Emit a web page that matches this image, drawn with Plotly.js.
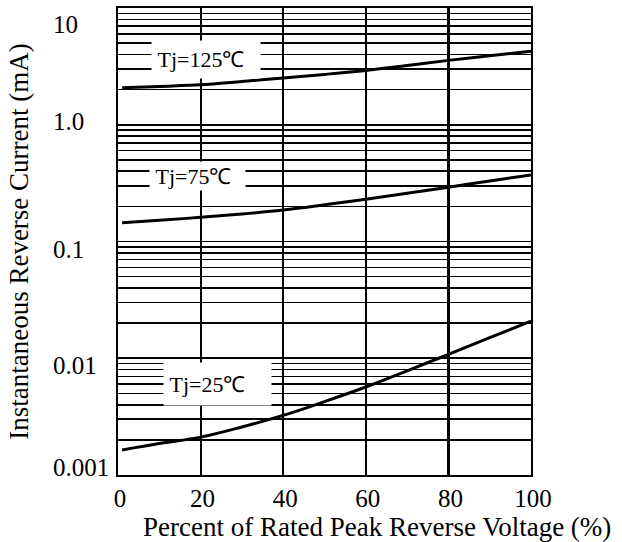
<!DOCTYPE html>
<html>
<head>
<meta charset="utf-8">
<script src="https://cdn.plot.ly/plotly-3.0.1.min.js"></script>
<style>html,body{margin:0;padding:0;background:#fff;}#chart{width:622px;height:542px;}</style>
</head>
<body>
<div id="chart"></div>
<script>
// Data
const voltagePct = [1, 10, 20, 30, 40, 50, 60, 70, 80, 90, 100];
const current125 = [2.07, 2.13, 2.2, 2.35, 2.52, 2.7, 2.92, 3.22, 3.56, 3.9, 4.26];
const current75  = [0.145, 0.152, 0.161, 0.172, 0.186, 0.206, 0.230, 0.259, 0.292, 0.330, 0.372];
const current25  = [0.00164, 0.00186, 0.00211, 0.00258, 0.00324, 0.00425, 0.00567, 0.0078, 0.0108, 0.0150, 0.0208];
const seriesLabels = ['Tj=125℃', 'Tj=75℃', 'Tj=25℃'];
const xTickVals = [0, 20, 40, 60, 80, 100];
const yLabelVals = [10, 1, 0.1, 0.01, 0.001];
const yLabelText = ['10', '1.0', '0.1', '0.01', '0.001'];
const xTitle = 'Percent of Rated Peak Reverse Voltage (%)';
const yTitle = 'Instantaneous Reverse Current (mA)';

// gridlines at every 1..9 multiple of each decade
const yGridVals = [];
[0.001, 0.01, 0.1, 1].forEach(d => {
  for (let k = 1; k <= 9; k++) yGridVals.push(+(d * k).toPrecision(3));
});
yGridVals.push(10);

const FONT = 'Liberation Serif, Times New Roman, serif';
const lineStyle = {color: '#000', width: 3, shape: 'spline'};
const traces = [current125, current75, current25].map((ys, i) => ({
  x: voltagePct, y: ys, type: 'scatter', mode: 'lines', line: lineStyle,
  name: seriesLabels[i], hoverinfo: 'skip'
}));

// label boxes (style/placement)
const boxes = [
  {x: 21.4, y: 0.558, w: 108, h: 37},
  {x: 19.3, y: -0.438, w: 95, h: 28},
  {x: 24.0, y: -2.223, w: 107, h: 42}
];
const annotations = boxes.map((b, i) => ({
  x: b.x, y: b.y, xref: 'x', yref: 'y', showarrow: false,
  text: '&nbsp;' + seriesLabels[i], width: b.w, height: b.h, align: 'left',
  valign: 'middle', bgcolor: '#fff', borderpad: 0,
  font: {family: FONT, size: 22, color: '#000'}
}));
// y tick labels, left aligned as in the reference
const yLabelNudge = [-16, 3, -8, -7, 8];
yLabelVals.forEach((v, i) => {
  annotations.push({
    x: 0, xref: 'paper', y: Math.log10(v), yref: 'y', xanchor: 'left', yanchor: 'middle',
    xshift: -67, yshift: yLabelNudge[i], showarrow: false, text: yLabelText[i],
    font: {family: FONT, size: 25, color: '#000'}
  });
});
// x axis title (offset to the right as in the reference)
annotations.push({
  x: 0.5, xref: 'paper', y: 0, yref: 'paper', xanchor: 'center', yanchor: 'middle',
  xshift: 52, yshift: -52, showarrow: false, text: xTitle,
  font: {family: FONT, size: 27, color: '#000'}
});

const layout = {
  width: 622, height: 542,
  margin: {l: 118, r: 91, t: 8, b: 67},
  paper_bgcolor: '#fff', plot_bgcolor: '#fff',
  showlegend: false,
  font: {family: FONT, size: 25, color: '#000'},
  xaxis: {
    range: [0, 100], tickvals: xTickVals, ticks: '',
    showgrid: true, gridcolor: '#000', gridwidth: 2.2,
    showline: true, linecolor: '#000', linewidth: 2, mirror: true,
    zeroline: false, ticklabelshift: 2,
    tickfont: {family: FONT, size: 25, color: '#000'}
  },
  yaxis: {
    type: 'log', range: [-3, 1], tickvals: yGridVals, ticks: '',
    showticklabels: false,
    showgrid: true, gridcolor: '#000', gridwidth: 1.6,
    showline: true, linecolor: '#000', linewidth: 2, mirror: true,
    zeroline: false,
    title: {text: yTitle, standoff: 80,
            font: {family: FONT, size: 27, color: '#000'}}
  },
  annotations: annotations
};

Plotly.newPlot('chart', traces, layout, {displayModeBar: false, staticPlot: true});
</script>
</body>
</html>
